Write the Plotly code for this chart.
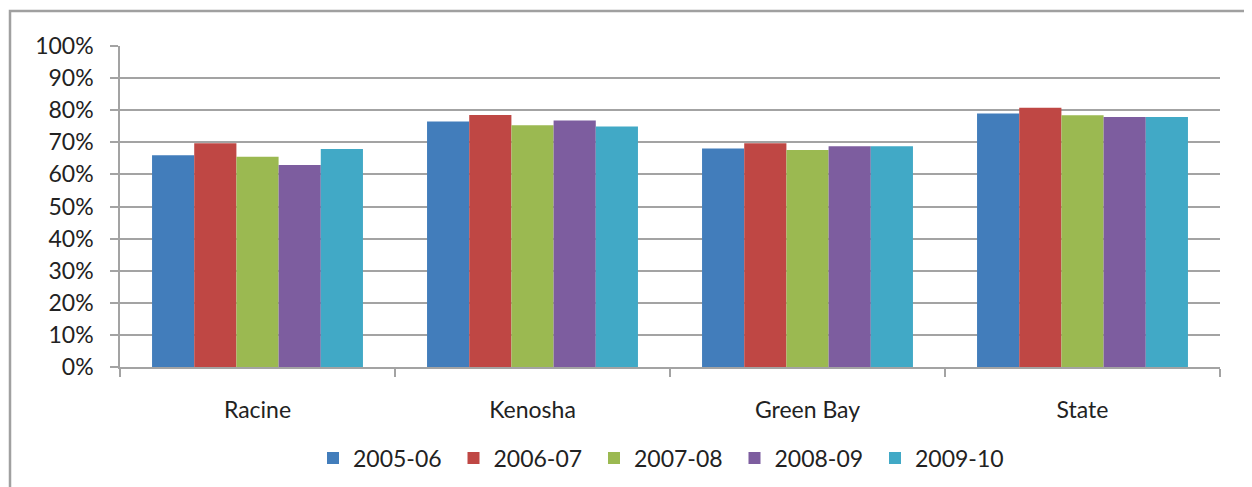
import plotly.graph_objects as go

categories = ["Racine", "Kenosha", "Green Bay", "State"]
series_names = ["2005-06", "2006-07", "2007-08", "2008-09", "2009-10"]
values_2005_06 = [0.66, 0.765, 0.681, 0.79]
values_2006_07 = [0.697, 0.785, 0.697, 0.808]
values_2007_08 = [0.655, 0.753, 0.676, 0.784]
values_2008_09 = [0.629, 0.768, 0.688, 0.779]
values_2009_10 = [0.679, 0.749, 0.688, 0.779]
series_values = [values_2005_06, values_2006_07, values_2007_08, values_2008_09, values_2009_10]
colors = ["#427DBB", "#BF4744", "#9BB951", "#7D5D9F", "#41A9C6"]

FONT = "Lato"
OFF = 8  # page body margin
SW, SH = 1252, 487
W, H = SW - OFF, SH - OFF
# desired screen positions of plot area
PL, PR, PT, PB = 120, 1220, 46, 367
L, R, T, B = PL - OFF, SW - PR, PT - OFF, SH - PB
pw, ph = W - L - R, H - T - B

def px_x(sx):
    return (sx - PL) / pw

def px_y(sy):
    return (PB - sy) / ph

fig = go.Figure()
for name, vals, col in zip(series_names, series_values, colors):
    fig.add_trace(go.Bar(x=categories, y=vals, name=name,
                         marker=dict(color=col, line=dict(width=0))))

grid_col = "#A3A3A3"
fig.update_layout(
    width=W, height=H,
    margin=dict(l=L, r=R, t=T, b=B, autoexpand=False),
    paper_bgcolor="white", plot_bgcolor="white",
    barmode="group", bargap=0.233, bargroupgap=0,
    font=dict(family=FONT, size=23, color="#222222"),
    showlegend=True,
    legend=dict(orientation="h", x=px_x(313), xanchor="left",
                y=px_y(458), yanchor="middle",
                font=dict(family=FONT, size=23, color="#222222"),
                entrywidth=95.5, entrywidthmode="pixels",
                itemwidth=30, traceorder="normal"),
    xaxis=dict(showline=True, linecolor=grid_col, linewidth=1.5,
               ticks="outside", ticklen=8, tickcolor=grid_col, tickwidth=1.5,
               tickson="boundaries", ticklabelstandoff=22,
               tickfont=dict(family=FONT, size=23, color="#222222"),
               showgrid=False, fixedrange=True),
    yaxis=dict(range=[0, 1], tickvals=[i / 10 for i in range(11)],
               tickformat=".0%", showline=True, linecolor=grid_col, linewidth=1.5,
               ticks="outside", ticklen=8, tickcolor=grid_col, tickwidth=1.5,
               ticklabelstandoff=12,
               tickfont=dict(family=FONT, size=23, color="#222222"),
               showgrid=True, gridcolor=grid_col, gridwidth=1.5,
               zeroline=False, fixedrange=True),
    shapes=[dict(type="rect", xref="paper", yref="paper",
                 x0=px_x(10), x1=px_x(SW + 20),
                 y0=px_y(SH + 20), y1=px_y(11),
                 line=dict(color="#A0A0A0", width=2.5), fillcolor="rgba(0,0,0,0)",
                 layer="below")],
)

fig.write_html("out.html")
